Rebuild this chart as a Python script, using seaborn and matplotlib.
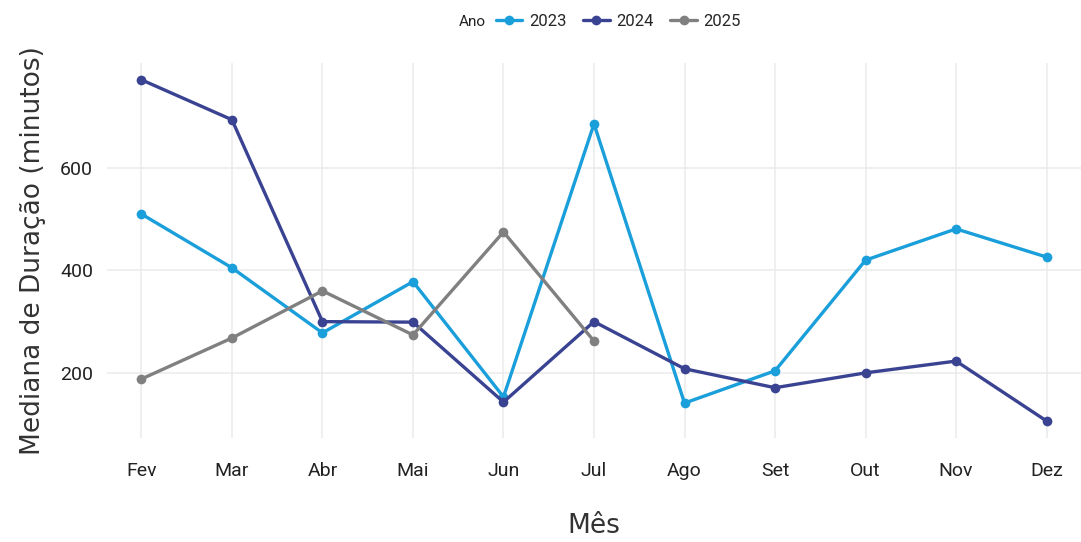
import pandas as pd
import matplotlib.pyplot as plt
import seaborn as sns

# monthly median duration (minutes) per year
meses = ["Fev", "Mar", "Abr", "Mai", "Jun", "Jul", "Ago", "Set", "Out", "Nov", "Dez"]
v2023 = [510, 405, 278, 378, 153, 686, 141, 204, 420, 481, 426]
v2024 = [772, 694, 300, 299, 143, 300, 208, 171, 200, 223, 106]
v2025 = [188, 268, 360, 274, 475, 262]

rows = []
for ano, vals in [("2023", v2023), ("2024", v2024), ("2025", v2025)]:
    for m, v in zip(meses, vals):
        rows.append({"Mês": m, "valor": v, "Ano": ano})
df = pd.DataFrame(rows)
df["x"] = df["Mês"].map({m: i for i, m in enumerate(meses)})

cores = {"2023": "#1A9FDB", "2024": "#3A4392", "2025": "#808080"}

sns.set_theme(style="whitegrid")
plt.rcParams["font.family"] = ["Roboto", "DejaVu Sans"]

fig = plt.figure(figsize=(10.81, 5.42), dpi=100)
ax = fig.add_axes([0.099, 0.192, 0.901, 0.692])

sns.lineplot(data=df, x="x", y="valor", hue="Ano", palette=cores, marker="o",
             markersize=7, markeredgewidth=0, linewidth=2.4, ax=ax, legend=True)

ax.set_xlim(-0.38, 10.38)
ax.set_ylim(73, 805)
ax.set_xticks(range(len(meses)))
ax.set_xticklabels(meses)
ax.set_yticks([200, 400, 600])
ax.tick_params(axis="both", labelsize=14, colors="#222222", length=0)
ax.tick_params(axis="x", pad=17)
ax.tick_params(axis="y", pad=10)
ax.grid(True, color="#EBEBEB", linewidth=1.1)
for s in ax.spines.values():
    s.set_visible(False)

ax.set_xlabel("Mês", fontsize=19, color="#333333", labelpad=24, family="DejaVu Sans")
ax.set_ylabel("Mediana de Duração (minutos)", fontsize=19, color="#333333", labelpad=10,
              family="DejaVu Sans")

handles, labels = ax.get_legend_handles_labels()
ax.legend(handles, labels, ncol=3, loc="center", bbox_to_anchor=(0.572, 0.96),
          bbox_transform=fig.transFigure, frameon=False, fontsize=12,
          handlelength=1.6, columnspacing=1.0, handletextpad=0.4)
fig.text(0.437, 0.96, "Ano", fontsize=11, va="center", ha="center", color="#222222")

fig.savefig("out.png", dpi=100)
